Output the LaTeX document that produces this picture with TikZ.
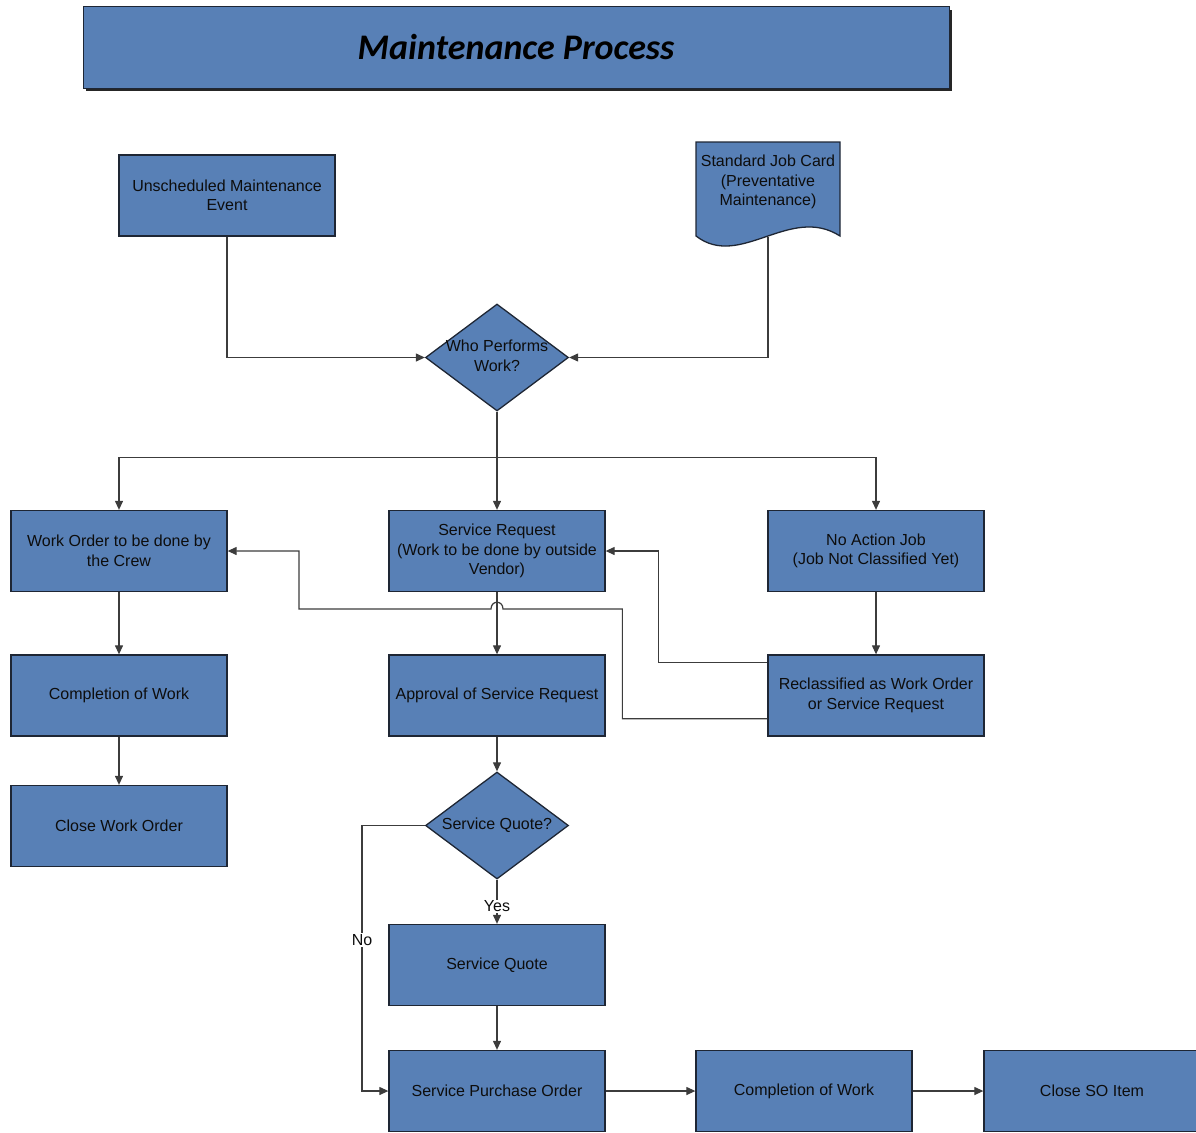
\documentclass[tikz,border=0pt]{standalone}
\usepackage{fontspec}
\setmainfont{Liberation Sans}
\newfontfamily\titlefont{Carlito}
\usetikzlibrary{shapes.geometric,arrows.meta,calc}
\definecolor{boxblue}{RGB}{88,128,182}
\definecolor{boxline}{RGB}{30,38,52}
\definecolor{wire}{RGB}{60,60,60}

\begin{document}
\begin{tikzpicture}[x=1pt,y=-1pt,
  proc/.style={draw=boxline, line width=1.3pt, fill=boxblue,
    minimum width=216pt, minimum height=81pt, inner sep=2pt,
    align=center, font=\fontsize{16}{19.5}\selectfont, text=black!95},
  decide/.style={draw=boxline, line width=1.3pt, fill=boxblue, diamond,
    minimum width=143pt, minimum height=107pt, inner sep=0pt},
  lbl/.style={align=center, font=\fontsize{16}{19.5}\selectfont, text=black!95},
  conn/.style={draw=wire, line width=1.2pt, -{Triangle[length=9pt,width=8pt]}},
  tag/.style={fill=white, inner sep=1pt, font=\fontsize{16}{19}\selectfont, text=black!95}]
\useasboundingbox (0,0) rectangle (1196,1132);
\clip (0,0) rectangle (1196,1132);

% title banner with drop shadow
\fill[black!85] (86,10) rectangle (952,91);
\node[draw=boxline, fill=boxblue, line width=1pt, minimum width=866pt,
  minimum height=81pt, font=\titlefont\bfseries\itshape\fontsize{36}{40}\selectfont]
  (title) at (516,47.5) {Maintenance Process};

% sources
\node[proc] (ush) at (227,195.5) {Unscheduled Maintenance\\Event};
\draw[boxline, line width=1.3pt, fill=boxblue]
  (696,142) -- (840,142) -- (840,236)
  .. controls (790,204) and (740,270) .. (696,236) -- cycle;
\node[lbl] (sjc) at (768,182) {Standard Job Card\\(Preventative\\Maintenance)};
\coordinate (sjcb) at (768,237);

% first decision
\node[decide] (who) at (497,357.5) {};
\node[lbl] (whot) at (497,356) {Who Performs\\Work?};

% second row
\node[proc] (wo) at (119,551) {Work Order to be done by\\the Crew};
\node[proc] (sr) at (497,551) {Service Request\\(Work to be done by outside\\Vendor)};
\node[proc] (na) at (876,551) {No Action Job\\(Job Not Classified Yet)};

% third row
\node[proc] (cw1) at (119,695.5) {Completion of Work};
\node[proc] (asr) at (497,695.5) {Approval of Service Request};
\node[proc] (recl) at (876,695.5) {Reclassified as Work Order\\or Service Request};

\node[proc] (cwo) at (119,826) {Close Work Order};

% quote decision and purchase chain
\node[decide] (sq) at (497,825.5) {};
\node[lbl] (sqt) at (497,825) {Service Quote?};
\node[proc] (sqb) at (497,965) {Service Quote};
\node[proc] (spo) at (497,1091) {Service Purchase Order};
\node[proc] (cw2) at (804,1091) {Completion of Work};
\node[proc] (cso) at (1092,1091) {Close SO Item};

% connectors
\draw[conn] (ush.south) |- (who.west);
\draw[conn] (sjcb) |- (who.east);
\draw[conn] (who.south) -- (sr.north);
\draw[conn] (who.south) -- ++(0,46) -| (wo.north);
\draw[conn] (who.south) -- ++(0,46) -| (na.north);

\draw[conn] (wo.south) -- (cw1.north);
\draw[conn] (cw1.south) -- (cwo.north);
\draw[conn] (sr.south) -- (asr.north);
\draw[conn] (na.south) -- (recl.north);

\coordinate (r1) at ([yshift=-8pt]recl.north west);
\coordinate (r2) at ([yshift=18pt]recl.south west);
\draw[conn] (r1) -- ++(-109,0) |- (sr.east);
\draw[conn] (r2) -- ++(-145,0) |- (503,609)
  .. controls (503,600) and (491,600) .. (491,609)
  -- (299,609) |- (wo.east);

\draw[conn] (asr.south) -- (sq.north);
\draw[conn] (sq.south) -- (sqb.north) node[tag, pos=0.6] (yes) {Yes};
\draw[conn] (sq.west) -- (362,825.5) |- (spo.west);
\node[tag] (no) at (362,940) {No};
\draw[conn] (sqb.south) -- (spo.north);
\draw[conn] (spo.east) -- (cw2.west);
\draw[conn] (cw2.east) -- (cso.west);
\end{tikzpicture}
\end{document}
